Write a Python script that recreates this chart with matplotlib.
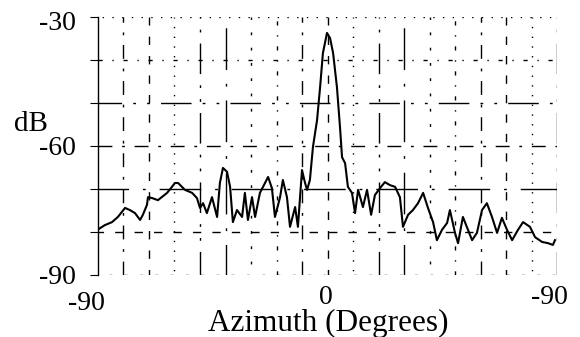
import numpy as np
import matplotlib
matplotlib.use("Agg")
import matplotlib.pyplot as plt

# azimuth pattern (degrees, dB)
azimuth = [-90.0, -89.2, -87.3, -84.5, -82.2, -80.6, -79.4, -77.5, -75.5, -73.5,
           -72.4, -70.8, -70.4, -68.8, -66.5, -62.9, -61.0, -59.8, -58.6, -55.9,
           -53.1, -51.2, -50.0, -48.8, -47.3, -45.3, -43.3, -42.2, -41.0, -39.4,
           -38.2, -37.1, -35.5, -33.5, -32.4, -31.2, -29.6, -28.4, -26.5, -24.5,
           -23.3, -21.8, -20.6, -18.6, -17.5, -15.9, -14.7, -12.7, -11.6, -10.0,
           -8.8, -8.0, -6.9, -5.7, -4.1, -2.9, -1.8, -0.2, 1.0, 2.2,
           3.7, 4.9, 5.7, 6.9, 8.0, 9.6, 10.8, 12.0, 13.9, 15.5,
           17.1, 18.6, 20.6, 22.5, 24.5, 26.5, 28.4, 29.6, 31.6, 33.5,
           35.5, 37.5, 39.4, 41.4, 42.9, 44.9, 46.9, 48.0, 50.0, 51.2,
           53.1, 55.1, 56.7, 58.6, 60.6, 62.5, 64.5, 66.5, 68.4, 70.4,
           72.4, 74.7, 76.7, 79.4, 81.4, 84.1, 86.5, 88.4, 89.2]
level = [-79.5, -79.1, -78.4, -77.7, -76.5, -75.3, -74.4, -74.9, -75.6, -77.2,
         -76.0, -73.7, -71.9, -72.1, -72.6, -70.9, -69.5, -68.6, -68.6, -70.2,
         -70.9, -72.1, -74.4, -73.3, -75.6, -71.9, -76.5, -68.6, -65.1, -66.0,
         -69.5, -77.7, -74.9, -76.5, -70.9, -77.2, -71.9, -76.5, -70.9, -68.6,
         -67.2, -69.8, -76.5, -71.9, -67.9, -71.9, -78.8, -74.2, -78.8, -65.6,
         -68.6, -70.2, -67.9, -60.2, -54.0, -46.3, -38.4, -33.7, -34.9, -38.4,
         -46.3, -55.6, -62.6, -64.0, -69.5, -70.9, -75.6, -70.2, -74.2, -70.2,
         -76.0, -71.4, -69.8, -68.4, -69.1, -69.5, -71.9, -78.8, -76.0, -74.9,
         -73.3, -70.9, -74.4, -77.7, -81.9, -79.5, -77.9, -74.9, -80.2, -82.6,
         -76.5, -79.5, -81.9, -80.2, -74.9, -73.3, -76.5, -80.2, -76.7, -79.5,
         -81.9, -79.5, -77.7, -78.8, -81.2, -82.3, -82.6, -83.0, -81.9]

xticks = [-90, 0, 90]
xtick_labels = ["-90", "0", "-90"]
yticks = [-30, -60, -90]
ytick_labels = ["-30", "-60", "-90"]

serif = ["Liberation Serif", "DejaVu Serif"]
plt.rcParams["font.family"] = serif

fig = plt.figure(figsize=(5.8, 3.37), dpi=100)
ax = fig.add_axes([98 / 580, 1 - 275 / 337, 459 / 580, 258 / 337])

# broken, sparse dash-dot grid like the scanned original
dashes = [(0, (10, 7, 2, 7)), (3, (2, 9)), (5, (22, 8, 2, 8, 2, 8)),
          (2, (6, 8)), (0, (3, 7, 1, 7)), (8, (30, 10, 2, 10)),
          (4, (1, 6))]
for i, gx in enumerate(range(-80, 100, 10)):
    ax.axvline(gx, color="black", lw=1.0, ls=dashes[(i * 3) % len(dashes)], zorder=1)
for i, gy in enumerate(range(-90, -20, 10)):
    ax.axhline(gy, color="black", lw=1.0, ls=dashes[(i * 2 + 1) % len(dashes)], zorder=1)

ax.plot(azimuth, level, color="black", lw=1.5, zorder=3)

ax.set_xlim(-90, 90)
ax.set_ylim(-90, -30)
for s in ["top", "right", "bottom"]:
    ax.spines[s].set_visible(False)
ax.spines["left"].set_linewidth(1.0)
ax.set_xticks([])
ax.set_yticks(range(-90, -20, 10))
ax.set_yticklabels([])
ax.tick_params(axis="y", direction="out", length=6, width=0.8)

# tick labels placed like the original
xoff = [-12, -2, -8]
for v, lab, dx in zip(xticks, xtick_labels, xoff):
    x_px = 98 + (v + 90) * 459 / 180 + dx
    y_px = 304 if v == -90 and dx < -10 else 297
    fig.text(x_px / 580, 1 - y_px / 337, lab, fontsize=20, ha="center", va="center")
ypos = [23, 148, 278]
for v, lab, yp in zip(yticks, ytick_labels, ypos):
    fig.text(76 / 580, 1 - yp / 337, lab, fontsize=20, ha="right", va="center")

fig.text(31 / 580, 1 - 124 / 337, "dB", fontsize=21, ha="center", va="center")
fig.text(328 / 580, 1 - 323 / 337, "Azimuth (Degrees)", fontsize=22.5,
         ha="center", va="center")

fig.savefig("out.png", dpi=100)
